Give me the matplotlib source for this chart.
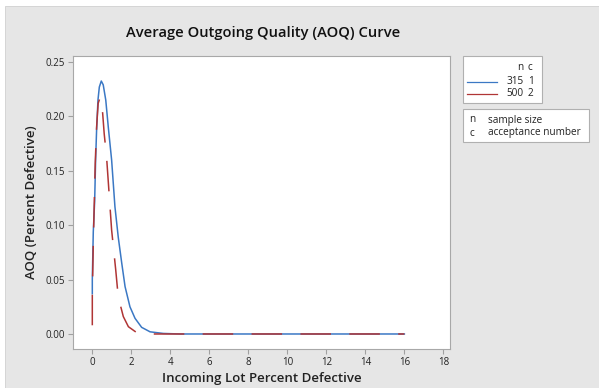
import matplotlib
matplotlib.use("Agg")
import matplotlib.pyplot as plt
from matplotlib.patches import Rectangle
from matplotlib.lines import Line2D

plt.rcParams['font.family'] = ['Open Sans', 'DejaVu Sans']

# Data
p_315 = [0.0, 0.0, 0.05, 0.12, 0.17, 0.22, 0.29, 0.36, 0.46, 0.56, 0.69, 0.82, 0.99,
         1.16, 1.33, 1.51, 1.68, 1.93, 2.19, 2.53, 2.96, 3.64, 4.5, 6.0, 8.0, 10.0, 12.0, 14.0, 16.0]
aoq_315 = [0.037, 0.05, 0.094, 0.122, 0.160, 0.1875, 0.215, 0.227, 0.2325, 0.229, 0.215, 0.190, 0.160,
           0.117, 0.089, 0.065, 0.0435, 0.025, 0.0144, 0.0061, 0.002, 0.0005, 0.0, 0.0, 0.0, 0.0, 0.0, 0.0, 0.0]
p_500 = [0.0, 0.0, 0.05, 0.10, 0.15, 0.22, 0.30, 0.41, 0.53, 0.61, 0.73, 0.85, 0.99, 1.08,
         1.20, 1.33, 1.59, 1.85, 2.28, 2.87, 4.0, 6.0, 8.0, 10.0, 12.0, 14.0, 16.0]
aoq_500 = [0.008, 0.036, 0.083, 0.120, 0.157, 0.190, 0.212, 0.218, 0.203, 0.184, 0.163, 0.132, 0.0956, 0.080,
           0.059, 0.034, 0.016, 0.0067, 0.0012, 0.0, 0.0, 0.0, 0.0, 0.0, 0.0, 0.0, 0.0]
x_ticks = [0, 2, 4, 6, 8, 10, 12, 14, 16, 18]
y_ticks = [0.00, 0.05, 0.10, 0.15, 0.20, 0.25]
plans = [("315", "1"), ("500", "2")]

W, H = 599, 388
fig = plt.figure(figsize=(W / 100, H / 100), dpi=100, facecolor='white')
bg = '#e6e6e6'
fig.patches.append(Rectangle((5 / W, 0), 1 - 5 / W, (H - 6) / H, transform=fig.transFigure,
                             facecolor=bg, edgecolor='#d0d0d0', lw=0.6, zorder=-10))

ax = fig.add_axes([73 / W, (H - 349) / H, 377 / W, 293 / H])
ax.set_zorder(2)
ax.set_facecolor('white')
blue = '#3b78c4'
red = '#b03535'
l1, = ax.plot(p_315, aoq_315, color=blue, lw=1.1, zorder=2)
l2, = ax.plot(p_500, aoq_500, color=red, lw=1.1, zorder=3)
l2.set_dashes([20, 12])

ax.set_xlim(-0.99, 18.34)
ax.set_ylim(-0.0138, 0.2555)
ax.set_xticks(x_ticks)
ax.set_yticks(y_ticks)
ax.set_yticklabels([f"{v:.2f}" for v in y_ticks])
for s in ax.spines.values():
    s.set_color('#a8a8a8')
    s.set_linewidth(0.8)
ax.tick_params(direction='out', length=3.5, width=0.8, color='#a0a0a0', labelsize=7, labelcolor='#222222', pad=2)

fig.text(263 / W, 1 - 33 / H, "Average Outgoing Quality (AOQ) Curve", ha='center', va='center',
         fontsize=10.6, weight='semibold', color='#111111')
ax.set_xlabel("Incoming Lot Percent Defective", fontsize=9.5, weight='semibold', color='#222222', labelpad=3)
ax.set_ylabel("AOQ (Percent Defective)", fontsize=9.5, weight='semibold', color='#222222', labelpad=6)

# Legend box 1
fig.patches.append(Rectangle((463 / W, 1 - 103 / H), 79 / W, 47 / H, transform=fig.transFigure,
                             facecolor='white', edgecolor='#b0b0b0', lw=0.8, zorder=1))
fig.text(517 / W, 1 - 67 / H, "n", ha='left', va='center', fontsize=7.2, color='#222222')
fig.text(528 / W, 1 - 67 / H, "c", ha='left', va='center', fontsize=7.2, color='#222222')
for (n, c), line, yy in zip(plans, [l1, l2], [82, 94]):
    fig.add_artist(Line2D([467 / W, 497 / W], [1 - yy / H, 1 - yy / H],
                          transform=fig.transFigure, color=line.get_color(), lw=0.9))
    fig.text(524 / W, 1 - yy / H, n, ha='right', va='center', fontsize=7.2, color='#222222')
    fig.text(528 / W, 1 - yy / H, c, ha='left', va='center', fontsize=7.2, color='#222222')

# Legend box 2
fig.patches.append(Rectangle((463 / W, 1 - 142 / H), 126 / W, 33 / H, transform=fig.transFigure,
                             facecolor='white', edgecolor='#b0b0b0', lw=0.8, zorder=1))
for sym, desc, yy in [("n", "sample size", 120), ("c", "acceptance number", 133)]:
    fig.text(469 / W, 1 - yy / H, sym, ha='left', va='center', fontsize=7.2, color='#222222')
    fig.text(488 / W, 1 - yy / H, desc, ha='left', va='center', fontsize=7.2, color='#222222')

fig.savefig("out.png", dpi=100, facecolor=fig.get_facecolor())
